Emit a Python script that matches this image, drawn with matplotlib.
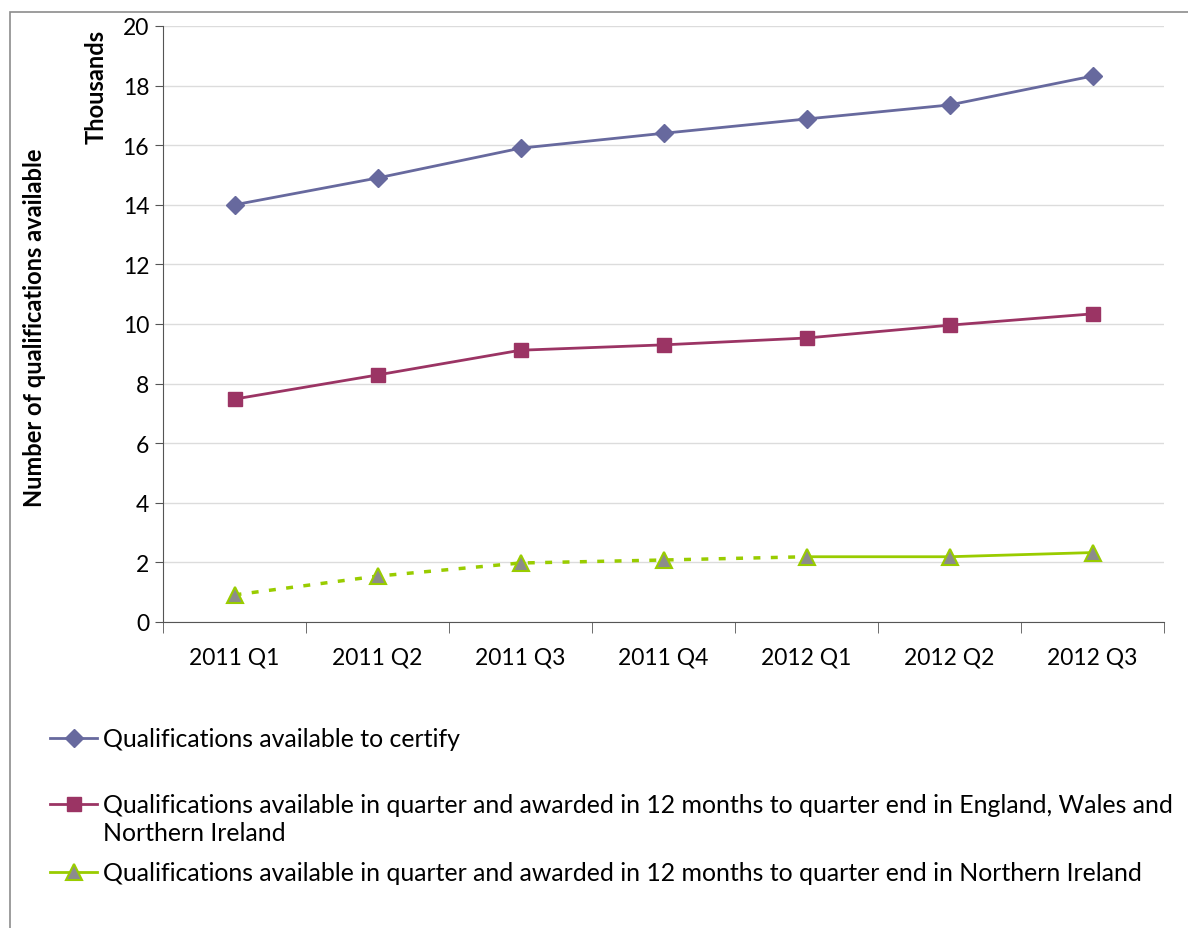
import numpy as np
import matplotlib.pyplot as plt
from matplotlib.lines import Line2D
from matplotlib.patches import Rectangle

plt.rcParams['font.family'] = ['Lato', 'DejaVu Sans']

quarters = ["2011 Q1", "2011 Q2", "2011 Q3", "2011 Q4", "2012 Q1", "2012 Q2", "2012 Q3"]
certify = [14.0, 14.9, 15.9, 16.4, 16.88, 17.35, 18.32]
ewni = [7.48, 8.29, 9.12, 9.30, 9.53, 9.96, 10.34]
ni = [0.91, 1.54, 1.98, 2.08, 2.19, 2.19, 2.33]
ni_dashed_until = 4  # dotted segment runs up to 2012 Q1

labels = [
    "Qualifications available to certify",
    "Qualifications available in quarter and awarded in 12 months to quarter end in England, Wales and\nNorthern Ireland",
    "Qualifications available in quarter and awarded in 12 months to quarter end in Northern Ireland",
]

c_cert = "#67699e"
c_ewni = "#9b3464"
c_ni = "#99cc00"
c_ni_face = "#8c8c8c"

W, H = 1188, 929
fig = plt.figure(figsize=(W / 100, H / 100), dpi=100)
ax = fig.add_axes([163 / W, 1 - 623 / H, (1164 - 163) / W, (623 - 27) / H])

x = np.arange(len(quarters))
ax.plot(x, certify, color=c_cert, lw=2, marker="D", ms=9, mfc=c_cert, mec=c_cert, zorder=3)
ax.plot(x, ewni, color=c_ewni, lw=2, marker="s", ms=10, mfc=c_ewni, mec=c_ewni, zorder=3)
ax.plot(x[:ni_dashed_until + 1], ni[:ni_dashed_until + 1], color=c_ni, lw=2.5,
        ls=(0, (2, 3)), zorder=3)
ax.plot(x[ni_dashed_until:], ni[ni_dashed_until:], color=c_ni, lw=2, zorder=3)
ax.plot(x, ni, ls="none", marker="^", ms=12, mfc=c_ni_face, mec=c_ni, mew=1.5, zorder=4)

ax.set_xlim(-0.5, len(quarters) - 0.5)
ax.set_ylim(0, 20)
ax.set_yticks(np.arange(0, 21, 2))
ax.set_xticks(x)
ax.set_xticklabels(quarters)
ax.set_xticks(np.arange(-0.5, len(quarters), 1), minor=True)
ax.tick_params(axis="x", which="major", length=0, pad=18, labelsize=16.5)
ax.tick_params(axis="x", which="minor", length=8, color="#555555", direction="out")
ax.tick_params(axis="y", length=6, color="#555555", labelsize=16.5, pad=4)
ax.grid(axis="y", color="#dcdcdc", lw=1)
ax.set_axisbelow(True)
for s in ["top", "right"]:
    ax.spines[s].set_visible(False)
for s in ["left", "bottom"]:
    ax.spines[s].set_color("#555555")

fig.text(35 / W, 1 - 328 / H, "Number of qualifications available", rotation=90,
         ha="center", va="center", fontsize=17, fontweight="bold")
fig.text(96 / W, 1 - 87 / H, "Thousands", rotation=90,
         ha="center", va="center", fontsize=17, fontweight="bold")

# legend drawn by hand
leg_rows = [739, 805, 873]
colors = [c_cert, c_ewni, c_ni]
markers = [
    dict(marker="D", ms=9, mfc=c_cert, mec=c_cert),
    dict(marker="s", ms=10, mfc=c_ewni, mec=c_ewni),
    dict(marker="^", ms=12, mfc=c_ni_face, mec=c_ni, mew=1.5),
]
for yy, col, mk, lab in zip(leg_rows, colors, markers, labels):
    fy = 1 - yy / H
    fig.add_artist(Line2D([50 / W, 97 / W], [fy, fy], lw=2, color=col,
                          transform=fig.transFigure))
    fig.add_artist(Line2D([73.5 / W], [fy], lw=0, transform=fig.transFigure, **mk))
    fig.text(103 / W, 1 - (yy - 11) / H, lab, ha="left", va="top", fontsize=17.9,
             linespacing=1.28)

fig.add_artist(Rectangle((10 / W, -0.05), 1.2, 1 - 13 / H + 0.05, fill=False,
                         ec="#8c8c8c", lw=1.2, transform=fig.transFigure))

fig.savefig("out.png", dpi=100)
